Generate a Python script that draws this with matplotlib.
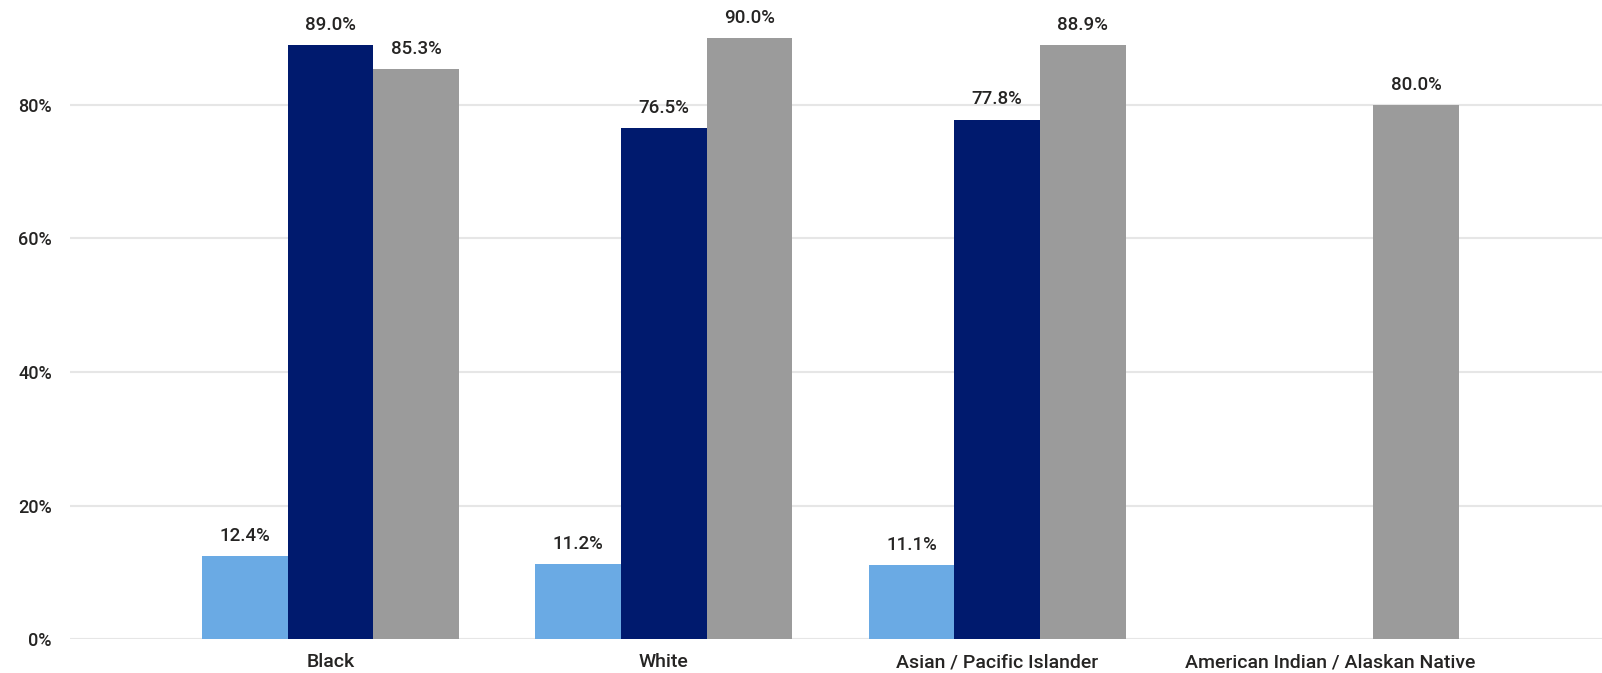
import numpy as np
import matplotlib
matplotlib.use("Agg")
import matplotlib.pyplot as plt

# data
categories = ["Black", "White", "Asian / Pacific Islander", "American Indian / Alaskan Native"]
series_1 = [12.4, 11.2, 11.1, np.nan]
series_2 = [89.0, 76.5, 77.8, np.nan]
series_3 = [85.3, 90.0, 88.9, 80.0]
y_ticks = [0, 20, 40, 60, 80]

colors = ["#6AAAE4", "#001A6E", "#9B9B9B"]
plt.rcParams["font.family"] = ["Roboto", "DejaVu Sans"]
plt.rcParams["font.weight"] = "medium"

fig = plt.figure(figsize=(16.02, 6.73), dpi=100)
ax = fig.add_axes([0.0437, 0.0501, 0.9563, 0.9499])

x = np.arange(len(categories))
w = 0.257

for i, vals in enumerate([series_1, series_2, series_3]):
    bars = ax.bar(x + (i - 1) * w, vals, width=w, color=colors[i], zorder=3)
    labels = ["" if np.isnan(v) else f"{v:.1f}%" for v in vals]
    ax.bar_label(bars, labels=labels, padding=8, fontsize=13.5, color="#252423",
                 fontweight="medium")

ax.set_xlim(-0.782, 3.815)
ax.set_ylim(0, 95.7)
ax.set_yticks(y_ticks)
ax.set_yticklabels([f"{t}%" for t in y_ticks])
ax.set_xticks(x)
ax.set_xticklabels(categories)
ax.tick_params(axis="both", length=0, labelsize=13, colors="#252423")
ax.tick_params(axis="x", pad=10, labelsize=14)
ax.tick_params(axis="y", pad=13)
ax.grid(axis="y", color="#E6E6E6", linewidth=1.5, zorder=0)
for s in ax.spines.values():
    s.set_visible(False)

fig.savefig("out.png", dpi=100)
